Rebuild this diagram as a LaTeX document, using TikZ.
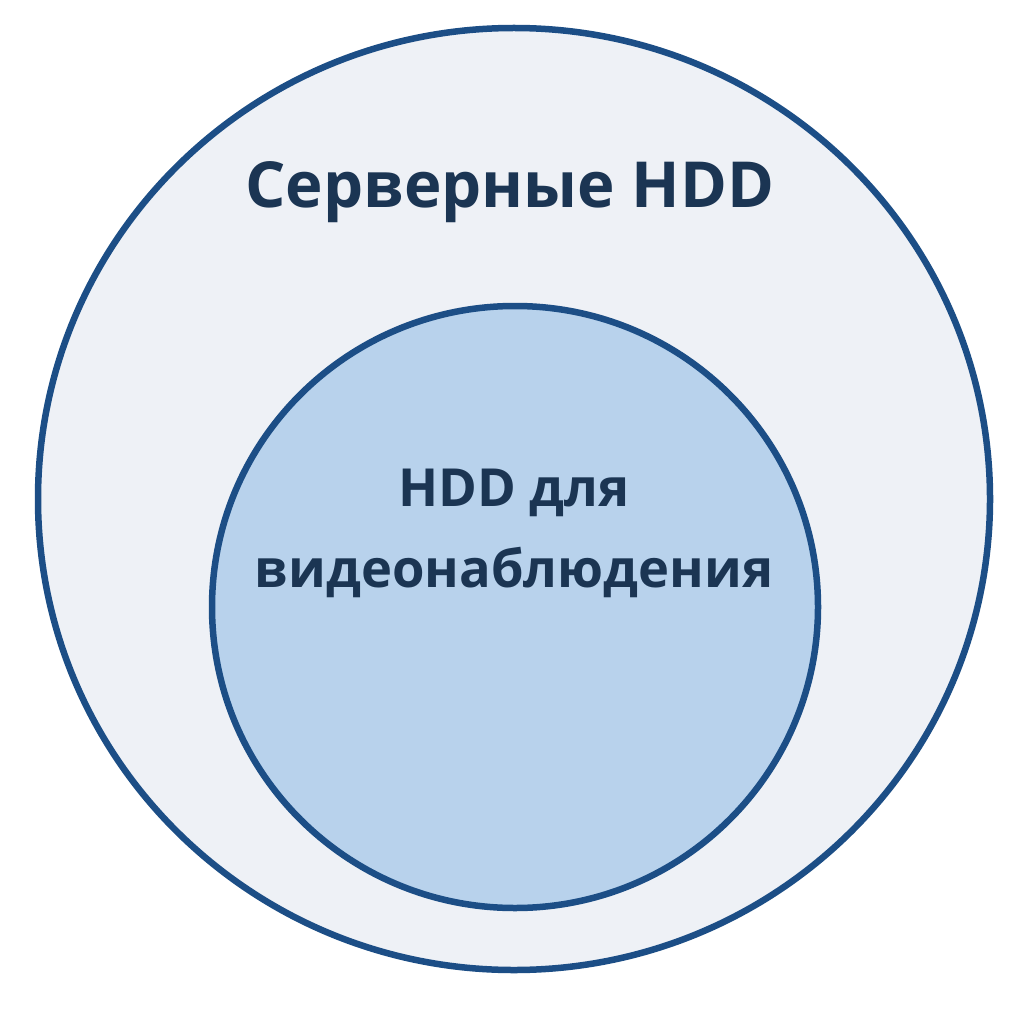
\documentclass[tikz,border=0pt]{standalone}
\usepackage{fontspec}
\setmainfont{Open Sans}
\definecolor{ringc}{HTML}{1C4E86}
\definecolor{outerfill}{HTML}{EEF1F6}
\definecolor{innerfill}{HTML}{B8D2EC}
\definecolor{textc}{HTML}{1B3553}
\begin{document}
\begin{tikzpicture}[x=1pt,y=-1pt,
  ring/.style={draw=ringc,line width=6.5pt},
  lbl/.style={text=textc,font=\bfseries,align=center,inner sep=0pt}]
\useasboundingbox (0,0) rectangle (1024,1024);
\fill[white] (0,0) rectangle (1024,1024);
\path[ring,fill=outerfill] (514,499) ellipse [x radius=476,y radius=471];
\path[ring,fill=innerfill] (515,607) ellipse [x radius=303,y radius=301];
\node[lbl,font=\fontsize{63.5}{76}\selectfont\bfseries] (outer) at (510,192) {Серверные HDD};
\node[lbl,font=\fontsize{52.5}{81}\selectfont\bfseries] (inner) at (514,533) {HDD для\\видеонаблюдения};
\end{tikzpicture}
\end{document}
